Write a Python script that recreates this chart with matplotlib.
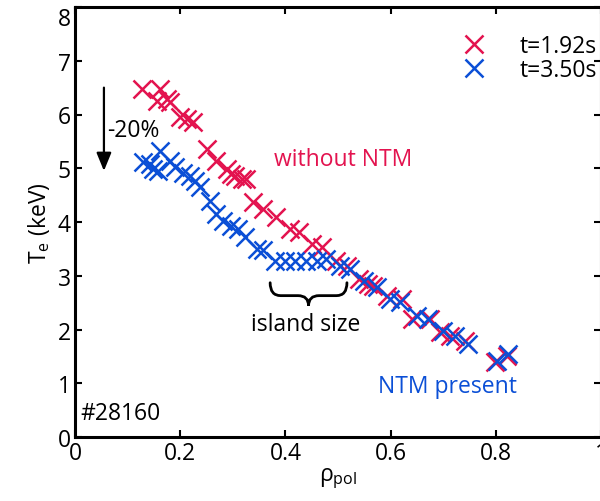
import matplotlib
matplotlib.use("Agg")
import matplotlib.pyplot as plt
from matplotlib.path import Path
from matplotlib.patches import PathPatch

plt.rcParams['font.family'] = ['Open Sans', 'DejaVu Sans']
plt.rcParams['mathtext.fontset'] = 'custom'
plt.rcParams['mathtext.rm'] = 'Open Sans'
plt.rcParams['mathtext.it'] = 'Open Sans'

# t = 1.92 s (without NTM)
rho_192 = [0.127, 0.161, 0.155, 0.175, 0.181, 0.200, 0.212, 0.225, 0.250, 0.269,
           0.289, 0.297, 0.304, 0.317, 0.326, 0.339, 0.358, 0.383, 0.409, 0.425,
           0.450, 0.469, 0.497, 0.517, 0.539, 0.557, 0.567, 0.593, 0.621, 0.640,
           0.675, 0.694, 0.713, 0.742, 0.798, 0.821]
te_192 = [6.47, 6.47, 6.26, 6.29, 6.23, 5.95, 5.92, 5.86, 5.36, 5.14,
          4.99, 4.89, 4.86, 4.80, 4.80, 4.38, 4.24, 4.09, 3.87, 3.81,
          3.59, 3.53, 3.28, 3.19, 2.94, 2.85, 2.81, 2.63, 2.57, 2.20,
          2.20, 1.95, 1.88, 1.79, 1.39, 1.51]

# t = 3.50 s (NTM present)
rho_350 = [0.129, 0.143, 0.161, 0.149, 0.158, 0.181, 0.190, 0.206, 0.218, 0.228,
           0.238, 0.257, 0.269, 0.282, 0.297, 0.310, 0.324, 0.346, 0.358, 0.380,
           0.399, 0.418, 0.440, 0.460, 0.478, 0.504, 0.522, 0.549, 0.574, 0.599,
           0.618, 0.650, 0.671, 0.700, 0.722, 0.747, 0.802, 0.824]
te_350 = [5.11, 5.08, 5.33, 4.99, 4.95, 5.14, 5.02, 4.92, 4.86, 4.77,
          4.65, 4.40, 4.15, 4.02, 3.93, 3.87, 3.72, 3.50, 3.47, 3.28,
          3.28, 3.28, 3.28, 3.28, 3.31, 3.19, 3.13, 2.91, 2.79, 2.57,
          2.51, 2.26, 2.20, 1.98, 1.88, 1.73, 1.42, 1.54]

labels = ['t=1.92s', 't=3.50s']
red = '#E3134F'
blue = '#0B4FD6'
fs = 16.5

W, H = 600, 502
fig = plt.figure(figsize=(6.0, 5.02), dpi=100)
ax = fig.add_axes([75 / W, (H - 438) / H, 526 / W, 430 / H])

ms, mew = 13.5, 1.8
ax.plot(rho_192, te_192, linestyle='none', marker='x', ms=ms, mew=mew, color=red, label=labels[0])
ax.plot(rho_350, te_350, linestyle='none', marker='x', ms=ms, mew=mew, color=blue, label=labels[1])

ax.set_xlim(0, 1)
ax.set_ylim(0, 8)
ax.set_xticks([0, 0.2, 0.4, 0.6, 0.8, 1])
ax.set_xticklabels(['0', '0.2', '0.4', '0.6', '0.8', '1'])
ax.set_yticks(range(0, 9))
ax.tick_params(direction='in', length=5, width=1.5, labelsize=fs, pad=3,
               top=True, right=True)
ax.yaxis.get_major_ticks()[-1].label1.set_verticalalignment('top')
for s in ax.spines.values():
    s.set_linewidth(2.2)

ax.set_xlabel(r'$\mathrm{\rho_{pol}}$', fontsize=fs, labelpad=0)
ax.set_ylabel(r'$\mathrm{T_e}$ (keV)', fontsize=fs, labelpad=4)

leg = ax.legend(loc='upper right', bbox_to_anchor=(0.992, 0.937), frameon=False,
                fontsize=fs, handlelength=1.0, handletextpad=1.5,
                labelspacing=0.0, borderaxespad=0.0, borderpad=0.0)

ax.text(0.51, 5.17, 'without NTM', color=red, fontsize=fs, ha='center', va='center')
ax.text(0.709, 0.95, 'NTM present', color=blue, fontsize=fs, ha='center', va='center')
ax.text(0.439, 2.1, 'island size', color='black', fontsize=fs, ha='center', va='center')
ax.text(0.01, 0.45, '#28160', color='black', fontsize=fs, ha='left', va='center')
ax.text(0.062, 5.72, '-20%', color='black', fontsize=fs, ha='left', va='center')

ax.annotate('', xy=(0.055, 4.95), xytext=(0.055, 6.5),
            arrowprops=dict(arrowstyle='-|>,head_length=1.1,head_width=0.45',
                            color='black', lw=1.6, shrinkA=0, shrinkB=0))

# curly brace under the flattened region
x0, x1, ytop, ybot = 0.371, 0.517, 2.87, 2.44
xm = 0.5 * (x0 + x1)
ymid = ytop - 0.24
dx = 0.02
verts = [(x0, ytop), (x0, ymid), (x0 + dx, ymid),
         (xm - dx, ymid), (xm, ymid), (xm, ybot),
         (xm, ymid), (xm + dx, ymid),
         (x1 - dx, ymid), (x1, ymid), (x1, ytop)]
codes = [Path.MOVETO, Path.CURVE3, Path.CURVE3,
         Path.LINETO, Path.CURVE3, Path.CURVE3,
         Path.CURVE3, Path.CURVE3,
         Path.LINETO, Path.CURVE3, Path.CURVE3]
ax.add_patch(PathPatch(Path(verts, codes), fill=False, lw=2.0, color='black',
                       capstyle='round'))

fig.savefig('out.png', dpi=100)
